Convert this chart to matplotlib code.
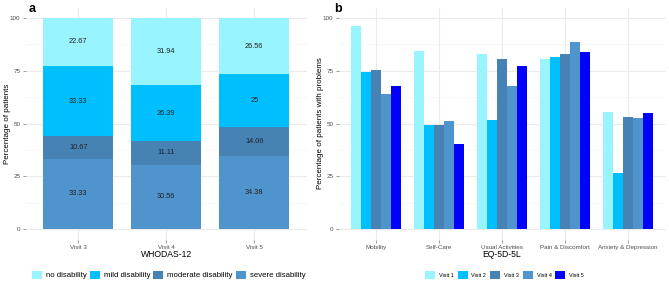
import matplotlib
matplotlib.use("Agg")
import matplotlib.pyplot as plt
import numpy as np
from matplotlib.patches import Patch

plt.rcParams["font.family"] = ["Liberation Sans", "DejaVu Sans"]

# ---- data: panel a (WHODAS-12) ----
visits_a = ["Visit 3", "Visit 4", "Visit 5"]
severe = [33.33, 30.56, 34.38]
moderate = [10.67, 11.11, 14.06]
mild = [33.33, 26.39, 25]
no_dis = [22.67, 31.94, 26.56]
labels_a = ["no disability", "mild disability", "moderate disability", "severe disability"]

# ---- data: panel b (EQ-5D-5L) ----
dims = ["Mobility", "Self-Care", "Usual Activities", "Pain & Discomfort", "Anxiety & Depression"]
visit1 = [96.1, 84.4, 83.1, 80.5, 55.5]
visit2 = [74.5, 49.5, 51.6, 81.6, 26.4]
visit3 = [75.2, 49.1, 80.5, 83.1, 53.3]
visit4 = [63.9, 51.1, 67.8, 88.8, 52.7]
visit5 = [67.8, 40.4, 77.1, 83.8, 54.8]
labels_b = ["Visit 1", "Visit 2", "Visit 3", "Visit 4", "Visit 5"]

c_no = "#98F5FF"
c_mild = "#00BFFF"
c_mod = "#4682B4"
c_sev = "#4F94CD"
c_v5 = "#0000FF"

W, H = 669, 284
fig = plt.figure(figsize=(W / 100, H / 100), dpi=100)

def frac(x0, x1, ytop, ybot):
    return [x0 / W, 1 - ybot / H, (x1 - x0) / W, (ybot - ytop) / H]

tick_col = "#4d4d4d"
grid_col = "#ebebeb"

def style(ax):
    for s in ax.spines.values():
        s.set_visible(False)
    ax.set_ylim(-5, 105)
    ax.set_yticks([0, 25, 50, 75, 100])
    ax.set_yticks([12.5, 37.5, 62.5, 87.5], minor=True)
    ax.grid(True, which="major", color=grid_col, lw=0.8, zorder=0)
    ax.grid(True, which="minor", axis="y", color="#f4f4f4", lw=0.5, zorder=0)
    ax.tick_params(axis="both", which="major", labelsize=4.5, labelcolor=tick_col,
                   color="#555555", length=2.5, width=0.4, pad=1.2)
    ax.tick_params(axis="y", which="minor", length=0)
    ax.set_axisbelow(True)

# ---- panel a ----
axa = fig.add_axes(frac(25.5, 307, 7.5, 239.5))
xa = np.arange(len(visits_a))
bw = 0.8
stacks = [(severe, c_sev), (moderate, c_mod), (mild, c_mild), (no_dis, c_no)]
bottom = np.zeros(len(xa))
for vals, col in stacks:
    vals = np.array(vals, dtype=float)
    axa.bar(xa, vals, bw, bottom=bottom, color=col, zorder=2)
    for xi, b, v in zip(xa, bottom, vals):
        axa.text(xi, b + v / 2, f"{v:g}", ha="center", va="center", fontsize=5.3,
                 color="#222222", zorder=3)
    bottom += vals
axa.set_xlim(-0.6, len(xa) - 0.4)
axa.set_xticks(xa)
axa.set_xticklabels(visits_a)
style(axa)
axa.set_xlabel("WHODAS-12", fontsize=6.2, va="center")
axa.xaxis.set_label_coords(0.5, (239.5 - 254.5) / 232)
axa.set_ylabel("Percentage of patients", fontsize=5.8, va="center")
axa.yaxis.set_label_coords((8 - 25.5) / 281.5, 0.5)
fig.text(29 / W, 1 - 8.5 / H, "a", fontsize=9, fontweight="bold", va="center", ha="left")

# ---- panel b ----
axb = fig.add_axes(frac(338.5, 665.5, 7.5, 239.5))
xb = np.arange(len(dims))
series = [visit1, visit2, visit3, visit4, visit5]
cols_b = [c_no, c_mild, c_mod, c_sev, c_v5]
n = len(series)
w = 0.8 / n
for i, (vals, col) in enumerate(zip(series, cols_b)):
    axb.bar(xb - 0.4 + w * (i + 0.5), vals, w, color=col, zorder=2, label=labels_b[i])
axb.set_xlim(-0.6, len(xb) - 0.4)
axb.set_xticks(xb)
axb.set_xticklabels(dims)
style(axb)
axb.set_xlabel("EQ-5D-5L", fontsize=6.2, va="center")
axb.xaxis.set_label_coords(0.5, (239.5 - 254.5) / 232)
axb.set_ylabel("Percentage of patients with problems", fontsize=5.8, va="center")
axb.yaxis.set_label_coords((321 - 338.5) / 327, 0.5)
fig.text(334 / W, 1 - 8.5 / H, "b", fontsize=9, fontweight="bold", va="center", ha="left")

# ---- legends ----
ha = [Patch(facecolor=c) for c in [c_no, c_mild, c_mod, c_sev]]
fig.legend(ha, labels_a, loc="center", bbox_to_anchor=(168.5 / W, 1 - 275 / H), ncol=4,
           frameon=False, fontsize=5.6, handlelength=1.3, handleheight=1.3,
           handletextpad=0.5, columnspacing=0.4, borderpad=0)
hb = [Patch(facecolor=c) for c in cols_b]
fig.legend(hb, labels_b, loc="center", bbox_to_anchor=(504.5 / W, 1 - 275 / H), ncol=5,
           frameon=False, fontsize=4.0, handlelength=1.8, handleheight=1.8,
           handletextpad=0.7, columnspacing=0.7, borderpad=0)

fig.savefig("out.png", dpi=100)
